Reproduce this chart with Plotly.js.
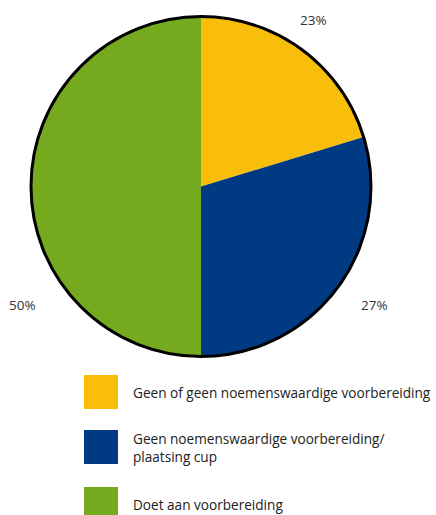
<!DOCTYPE html>
<html>
<head>
<meta charset="utf-8">
<script src="https://cdn.plot.ly/plotly-3.0.1.min.js"></script>
<style>html,body{margin:0;padding:0;background:#fff;}#chart{width:436px;height:515px;}</style>
</head>
<body>
<div id="chart"></div>
<script>
// Data
const categories = [
  "Geen of geen noemenswaardige voorbereiding",
  "Geen noemenswaardige voorbereiding/<br>plaatsing cup",
  "Doet aan voorbereiding"
];
// slice sizes as drawn in the picture
const values = [20.3, 29.7, 50];
// percentage labels as printed in the picture
const pctLabels = ["23%", "27%", "50%"];
const colors = ["#F9BE0A", "#003A82", "#76AA1E"];

const W = 436, H = 515;
const px = x => x / W;
const py = y => 1 - y / H;

// percentage label positions (pixels)
const labelPos = [[313, 20], [374, 305], [22, 305]];
// legend layout (pixels)
const legendX = 84, swatch = 34, textX = 131;
const legendTop = [375, 430, 487];

const pieDomain = {x: [px(31), px(371)], y: [py(357), py(16)]};

const annotations = [];
const shapes = [];
values.forEach((v, i) => {
  annotations.push({
    xref: 'paper', yref: 'paper', x: px(labelPos[i][0]), y: py(labelPos[i][1]),
    xanchor: 'center', yanchor: 'middle', showarrow: false,
    text: pctLabels[i],
    font: {family: 'Open Sans, sans-serif', size: 13.5, color: '#333'}
  });
  shapes.push({
    type: 'rect', xref: 'paper', yref: 'paper',
    x0: px(legendX), x1: px(legendX + swatch),
    y0: py(legendTop[i] + swatch), y1: py(legendTop[i]),
    fillcolor: colors[i], line: {width: 0}
  });
  annotations.push({
    xref: 'paper', yref: 'paper', x: px(textX), y: py(legendTop[i] + swatch / 2),
    xanchor: 'left', yanchor: 'middle', align: 'left', showarrow: false,
    text: categories[i],
    font: {family: 'Open Sans, sans-serif', size: 13.6, color: '#222'}
  });
});

const trace = {
  type: 'pie',
  labels: categories,
  values: values,
  sort: false,
  direction: 'clockwise',
  rotation: 0,
  marker: {colors: colors, line: {color: 'rgba(0,0,0,0)', width: 0}},
  textinfo: 'none',
  hoverinfo: 'label',
  showlegend: false,
  domain: pieDomain
};

// outer border ring
const border = {
  type: 'pie',
  labels: ['border'],
  values: [1],
  marker: {colors: ['rgba(0,0,0,0)'], line: {color: '#000', width: 3}},
  textinfo: 'none',
  hoverinfo: 'skip',
  showlegend: false,
  domain: pieDomain
};

const layout = {
  width: W, height: H,
  margin: {l: 0, r: 0, t: 0, b: 0},
  paper_bgcolor: '#fff',
  showlegend: false,
  annotations: annotations,
  shapes: shapes
};

Plotly.newPlot('chart', [trace, border], layout, {displayModeBar: false, staticPlot: true});
</script>
</body>
</html>
